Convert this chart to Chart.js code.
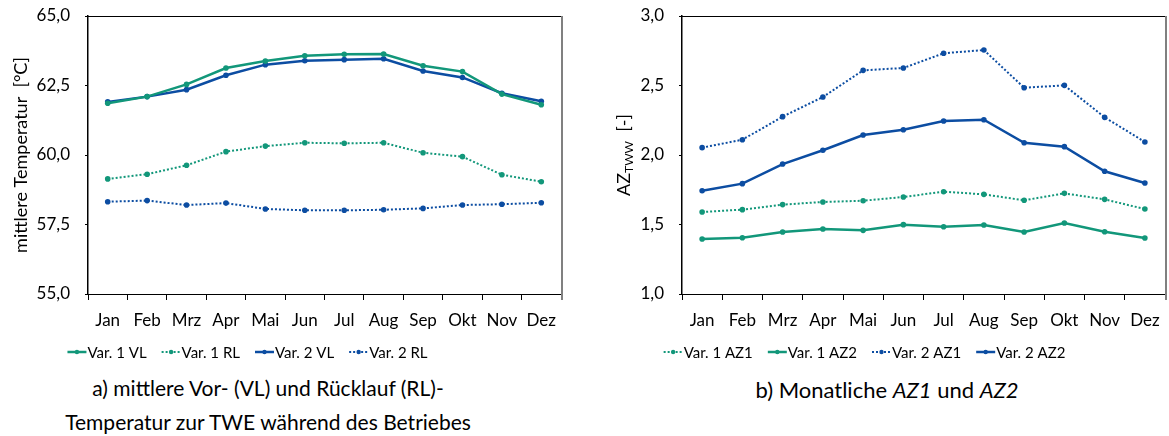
<!DOCTYPE html>
<html><head><meta charset="utf-8">
<script src="https://cdn.jsdelivr.net/npm/chart.js@4"></script>
<style>
body{margin:0;background:#fff;width:1169px;height:436px;overflow:hidden;position:relative;font-family:Lato,sans-serif;}
#c1{position:absolute;left:0;top:0}
#c2{position:absolute;left:585px;top:0}
.cap{position:absolute;font-size:21px;color:#000;text-align:center;line-height:34px;white-space:nowrap}
</style></head><body>
<canvas id="c1" width="585" height="370"></canvas>
<canvas id="c2" width="584" height="370"></canvas>
<div class="cap" style="left:18px;width:500px;top:371px">a) mittlere Vor- (VL) und Rücklauf (RL)-<br>Temperatur zur TWE während des Betriebes</div>
<div class="cap" style="left:637px;width:500px;top:373px;font-size:22px">b) Monatliche <i>AZ1</i> und <i>AZ2</i></div>
<script>
const months = ['Jan','Feb','Mrz','Apr','Mai','Jun','Jul','Aug','Sep','Okt','Nov','Dez'];
// Chart a) temperatures [°C]
const var1VL = [61.86,62.10,62.54,63.13,63.38,63.57,63.62,63.63,63.21,63.00,62.19,61.81];
const var1RL = [59.14,59.31,59.63,60.12,60.32,60.44,60.42,60.44,60.08,59.94,59.29,59.04];
const var2VL = [61.91,62.10,62.35,62.87,63.25,63.39,63.43,63.46,63.02,62.79,62.22,61.93];
const var2RL = [58.32,58.36,58.20,58.27,58.06,58.01,58.01,58.03,58.08,58.20,58.23,58.28];
// Chart b) AZ values [-]
const var1AZ1 = [1.590,1.607,1.643,1.662,1.671,1.698,1.736,1.717,1.674,1.724,1.681,1.611];
const var1AZ2 = [1.396,1.405,1.446,1.468,1.458,1.499,1.484,1.496,1.446,1.511,1.448,1.403];
const var2AZ1 = [2.053,2.110,2.276,2.417,2.609,2.626,2.732,2.755,2.484,2.501,2.271,2.094];
const var2AZ2 = [1.743,1.794,1.935,2.034,2.144,2.182,2.245,2.254,2.088,2.060,1.883,1.799];
const tempTicks = [55, 65, 2.5];   // min, max, step
const azTicks = [1, 3, 0.5];

const GREEN = '#12977a', BLUE = '#0c4da2';
const FONT = 'Lato, sans-serif';
const AXFONT = 17;

function ds(label, data, color, dotted){
  return {label, data, borderColor: color, backgroundColor: color,
    borderWidth: dotted ? 2 : 2.5, borderDash: dotted ? [2,2] : [],
    pointRadius: 2.8, pointHoverRadius: 2.8, pointBackgroundColor: color, pointBorderWidth: 0,
    tension: 0, fill: false};
}

function makeChart(id, datasets, ticks, axisW, padRight, legendX, titleFn){
  const framePlugin = {
    id: 'frame',
    afterDraw(chart){
      const {ctx, chartArea: a} = chart;
      ctx.save();
      ctx.strokeStyle = '#000'; ctx.lineWidth = 1;
      ctx.beginPath(); ctx.moveTo(a.left, a.top + 0.5); ctx.lineTo(a.right, a.top + 0.5); ctx.stroke();
      ctx.strokeStyle = '#808080'; ctx.lineWidth = 2;
      ctx.beginPath(); ctx.moveTo(a.right + 1, a.top); ctx.lineTo(a.right + 1, a.bottom + 6); ctx.stroke();
      // y axis title
      titleFn(ctx, (a.top + a.bottom) / 2);
      // legend
      ctx.font = '15px ' + FONT; ctx.textBaseline = 'middle'; ctx.fillStyle = '#000';
      const sw = 19, gap = 1, itemGap = 15, y = 352;
      const widths = chart.data.datasets.map(d => sw + gap + ctx.measureText(d.label).width);
      const total = widths.reduce((s, w) => s + w, 0) + itemGap * (widths.length - 1);
      let x = legendX - total / 2;
      chart.data.datasets.forEach((d, i) => {
        ctx.strokeStyle = d.borderColor; ctx.lineWidth = d.borderWidth;
        ctx.setLineDash(d.borderDash);
        ctx.beginPath(); ctx.moveTo(x, y); ctx.lineTo(x + sw, y); ctx.stroke();
        ctx.setLineDash([]);
        ctx.fillStyle = d.borderColor;
        ctx.beginPath(); ctx.arc(x + sw / 2, y, 2.2, 0, Math.PI * 2); ctx.fill();
        ctx.fillStyle = '#000'; ctx.textAlign = 'left';
        ctx.fillText(d.label, x + sw + gap, y + 1);
        x += widths[i] + itemGap;
      });
      ctx.restore();
    }
  };
  return new Chart(document.getElementById(id), {
    type: 'line',
    data: {labels: months, datasets},
    options: {
      responsive: false, animation: false, devicePixelRatio: 1,
      layout: {padding: {top: 16, right: padRight, bottom: 36, left: 0}},
      plugins: {legend: {display: false}, tooltip: {enabled: false}},
      scales: {
        x: {
          offset: true,
          grid: {display: true, drawOnChartArea: false, drawTicks: true, tickLength: 6, offset: true, color: '#000', lineWidth: 1},
          border: {display: true, color: '#000', width: 1},
          ticks: {color: '#000', font: {family: FONT, size: AXFONT}, padding: 10, maxRotation: 0, autoSkip: false},
          afterFit(s){ s.height = 40; s.paddingLeft = 0; s.paddingRight = 0; }
        },
        y: {
          min: ticks[0], max: ticks[1],
          grid: {display: true, drawOnChartArea: false, drawTicks: true, tickLength: 3, color: '#000'},
          border: {display: true, color: '#000', width: 1.5},
          ticks: {stepSize: ticks[2], color: '#000', font: {family: FONT, size: AXFONT}, padding: 15,
                  callback: v => v.toFixed(1).replace('.', ',')},
          afterFit(s){ s.width = axisW; s.paddingTop = 0; s.paddingBottom = 0; }
        }
      }
    },
    plugins: [framePlugin]
  });
}

makeChart('c1', [
  ds('Var. 1 VL', var1VL, GREEN, false),
  ds('Var. 1 RL', var1RL, GREEN, true),
  ds('Var. 2 VL', var2VL, BLUE, false),
  ds('Var. 2 RL', var2RL, BLUE, true)
], tempTicks, 88, 24, 247.5, (ctx, cy) => {
  ctx.save(); ctx.translate(21, cy); ctx.rotate(-Math.PI / 2);
  ctx.font = '18px ' + FONT; ctx.fillStyle = '#000'; ctx.textAlign = 'center'; ctx.textBaseline = 'middle';
  ctx.fillText('mittlere Temperatur  [°C]', 0, 0);
  ctx.restore();
});

makeChart('c2', [
  ds('Var. 1 AZ1', var1AZ1, GREEN, true),
  ds('Var. 1 AZ2', var1AZ2, GREEN, false),
  ds('Var. 2 AZ1', var2AZ1, BLUE, true),
  ds('Var. 2 AZ2', var2AZ2, BLUE, false)
], azTicks, 97, 4, 279.5, (ctx, cy) => {
  ctx.save(); ctx.translate(39, cy); ctx.rotate(-Math.PI / 2);
  ctx.fillStyle = '#000'; ctx.textBaseline = 'middle'; ctx.textAlign = 'left';
  const big = '18px ' + FONT, small = '12px ' + FONT;
  ctx.font = big; const w1 = ctx.measureText('AZ').width; const w3 = ctx.measureText('  [-]').width;
  ctx.font = small; const w2 = ctx.measureText('TWW').width;
  let x = -(w1 + w2 + w3) / 2;
  ctx.font = big; ctx.fillText('AZ', x, 0); x += w1;
  ctx.font = small; ctx.fillText('TWW', x, 5); x += w2;
  ctx.font = big; ctx.fillText('  [-]', x, 0);
  ctx.restore();
});
</script>
</body></html>
